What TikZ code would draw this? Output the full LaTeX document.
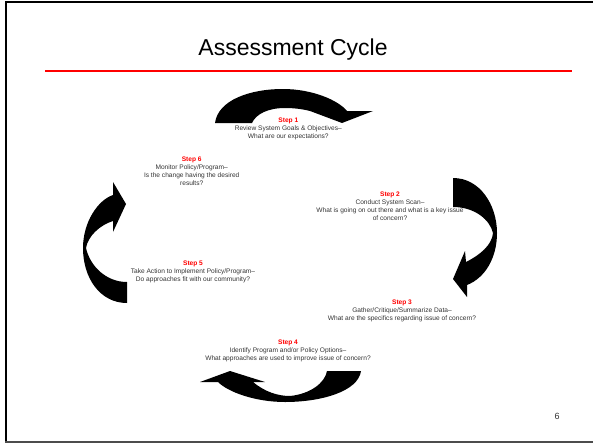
\documentclass[tikz,border=0pt]{standalone}
\usepackage{fontspec}
\setmainfont{Liberation Sans}
\definecolor{rulered}{RGB}{255,0,0}
\begin{document}
\begin{tikzpicture}[x=1pt,y=-1pt,
  steptext/.style={align=center,inner sep=0pt,text=black!80,font=\fontsize{6.6}{8}\selectfont},
  blockarrow/.style={fill=black,draw=none},
  frameline/.style={line width=2pt}]
\useasboundingbox (0,0) rectangle (593,444);
% frame
\draw[frameline,black] (6,2.5) -- (600,2.5);
\draw[frameline,black] (6,1.5) -- (6,442);
\draw[frameline,black!70] (5,442) -- (600,442);
% title
\node[font=\fontsize{23}{26}\selectfont,inner sep=0pt] (title) at (293,50) {Assessment Cycle};
\draw[rulered,line width=1.4pt] (45,71) -- (572,71);
% step texts
\node[steptext] (s1) at (288.3,128.7) {\textcolor{rulered}{\textbf{Step 1}}\\Review System Goals \& Objectives–\\What are our expectations?};
\node[steptext] (s2) at (390,206) {\textcolor{rulered}{\textbf{Step 2}}\\Conduct System Scan–\\What is going on out there and what is a key issue\\of concern?};
\node[steptext] (s3) at (402,310.5) {\textcolor{rulered}{\textbf{Step 3}}\\Gather/Critique/Summarize Data–\\What are the specifics regarding issue of concern?};
\node[steptext] (s4) at (288,350.5) {\textcolor{rulered}{\textbf{Step 4}}\\Identify Program and/or Policy Options–\\What approaches are used to improve issue of concern?};
\node[steptext] (s5) at (193,271.7) {\textcolor{rulered}{\textbf{Step 5}}\\Take Action to Implement Policy/Program–\\Do approaches fit with our community?};
\node[steptext] (s6) at (191.7,171) {\textcolor{rulered}{\textbf{Step 6}}\\Monitor Policy/Program–\\Is the change having the desired\\results?};
% top arrow (curved down)
\fill[blockarrow] (215,123) .. controls (218,100) and (250,89) .. (283,89)
  .. controls (312,89) and (338,100) .. (347,111) -- (373,111) -- (342,123) -- (310,111)
  .. controls (302,109) and (294,108) .. (285,108)
  .. controls (268,108) and (256,114) .. (252,123) -- cycle;
% right arrow (curved left)
\fill[blockarrow] (453,178) .. controls (480,178) and (497,205) .. (497,233)
  .. controls (497,258) and (485,278) .. (467,285) -- (467,297) -- (453,279) -- (465,251) -- (466,262)
  .. controls (480,255) and (492,245) .. (493,233)
  .. controls (490,220) and (475,207) .. (453,207) -- cycle;
% left arrow (curved right)
\fill[blockarrow] (127,303) .. controls (100,303) and (83,278) .. (83,248)
  .. controls (83,222) and (98,200) .. (113,195) -- (113,182) -- (126,204) -- (113,232) -- (113,221)
  .. controls (100,225) and (88,236) .. (86,248)
  .. controls (90,266) and (106,282) .. (127,282) -- cycle;
% bottom arrow (curved up)
\fill[blockarrow] (361,371) .. controls (358,392) and (320,402) .. (285,402)
  .. controls (255,402) and (228,392) .. (218,382) -- (200,382) -- (230,371) -- (265,382) -- (253,382)
  .. controls (265,392) and (278,396) .. (290,396)
  .. controls (310,394) and (325,383) .. (327,371) -- cycle;
% page number
\node[font=\fontsize{9}{10}\selectfont,inner sep=0pt,text=black!80] (pg) at (557,416) {6};
\end{tikzpicture}
\end{document}
